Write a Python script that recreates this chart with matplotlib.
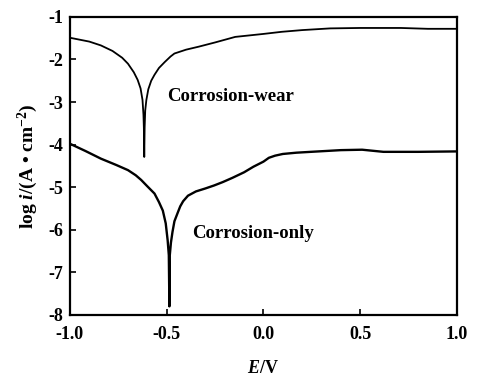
import matplotlib
matplotlib.use("Agg")
import matplotlib.pyplot as plt

plt.rcParams['font.family'] = 'Liberation Serif'
plt.rcParams['font.weight'] = 'bold'
plt.rcParams['axes.labelweight'] = 'bold'
plt.rcParams['axes.unicode_minus'] = False
plt.rcParams['mathtext.fontset'] = 'custom'
plt.rcParams['mathtext.rm'] = 'Liberation Serif:bold'
plt.rcParams['mathtext.it'] = 'Liberation Serif:bold:italic'
plt.rcParams['mathtext.bf'] = 'Liberation Serif:bold'

# corrosion-wear polarization curve
wear_E = [-1.0, -0.9, -0.84, -0.78, -0.73, -0.70, -0.67, -0.65, -0.635, -0.625,
          -0.62, -0.618, -0.616, -0.614, -0.611, -0.605, -0.595, -0.58, -0.563, -0.54,
          -0.51, -0.48, -0.46, -0.40, -0.335, -0.25, -0.146, 0.0, 0.095, 0.2,
          0.345, 0.5, 0.6, 0.71, 0.85, 1.0]
wear_logi = [-1.49, -1.58, -1.67, -1.80, -1.96, -2.10, -2.30, -2.48, -2.68, -2.95,
             -3.3, -3.6, -4.29, -3.6, -3.2, -2.95, -2.70, -2.50, -2.36, -2.20,
             -2.06, -1.93, -1.86, -1.77, -1.70, -1.60, -1.47, -1.40, -1.35, -1.31,
             -1.27, -1.26, -1.26, -1.26, -1.28, -1.28]

# corrosion-only polarization curve
only_E = [-1.0, -0.92, -0.84, -0.76, -0.70, -0.66, -0.632, -0.60, -0.563, -0.54,
          -0.52, -0.505, -0.495, -0.489, -0.486, -0.484, -0.478, -0.47, -0.46, -0.443,
          -0.43, -0.415, -0.39, -0.349, -0.30, -0.255, -0.21, -0.16, -0.10, -0.052,
          0.0, 0.028, 0.06, 0.1, 0.17, 0.245, 0.4, 0.51, 0.62, 0.8, 1.0]
only_logi = [-3.98, -4.15, -4.33, -4.48, -4.60, -4.72, -4.83, -4.98, -5.15, -5.35,
             -5.55, -5.85, -6.25, -6.6, -7.8, -6.6, -6.3, -6.05, -5.8, -5.6,
             -5.45, -5.33, -5.2, -5.1, -5.03, -4.96, -4.88, -4.78, -4.65, -4.52,
             -4.40, -4.31, -4.26, -4.22, -4.19, -4.17, -4.13, -4.12, -4.17, -4.17, -4.16]

x_ticks = [-1.0, -0.5, 0.0, 0.5, 1.0]
y_ticks = [-8, -7, -6, -5, -4, -3, -2, -1]

fig = plt.figure(figsize=(4.79, 3.84), dpi=100)
ax = fig.add_axes([0.146, 0.180, 0.808, 0.776])

ax.plot(wear_E, wear_logi, color='black', lw=1.3)
ax.plot(only_E, only_logi, color='black', lw=1.7)

ax.text(-0.497, -2.88, 'Corrosion-wear', fontsize=13.5, fontweight='bold', va='center', ha='left')
ax.text(-0.37, -6.08, 'Corrosion-only', fontsize=13.5, fontweight='bold', va='center', ha='left')

ax.set_xlim(-1, 1)
ax.set_ylim(-8, -1)
ax.set_xticks(x_ticks)
ax.set_xticklabels([f"{v:.1f}" for v in x_ticks])
ax.set_yticks(y_ticks)
ax.set_yticklabels([str(v) for v in y_ticks])
ax.tick_params(direction='in', length=4, width=1.2, labelsize=13, top=False, right=False)
ax.tick_params(axis='x', pad=8)
ax.tick_params(axis='y', pad=5)
for s in ax.spines.values():
    s.set_linewidth(1.6)

ax.set_xlabel('$\\mathit{E}$/V', fontsize=13, labelpad=12)
ax.set_ylabel('log $\\mathit{i}$/(A \u2022 cm$^{-2}$)', fontsize=14, labelpad=6)

fig.savefig('out.png', dpi=100)
